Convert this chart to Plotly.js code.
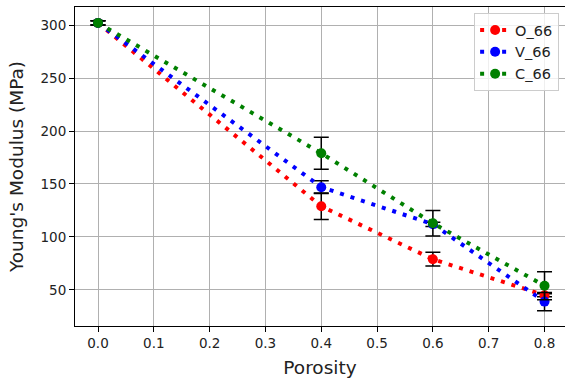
<!DOCTYPE html>
<html>
<head>
<meta charset="utf-8">
<script src="https://cdn.plot.ly/plotly-3.0.1.min.js"></script>
<style>
html,body{margin:0;padding:0;background:#fff;overflow:hidden;}
#chart{width:565px;height:381px;}
</style>
</head>
<body>
<div id="chart"></div>
<script>
const porosity = [0.0, 0.4, 0.6, 0.8];
const seriesNames = ["O_66", "V_66", "C_66"];
const O_66 = [302, 129, 79, 45];
const O_66_err = [2, 12.5, 6.5, 1.5];
const V_66 = [302, 147, 112, 39];
const V_66_err = [2, 6, 2, 8.7];
const C_66 = [302, 179, 113, 54];
const C_66_err = [2, 15, 12, 13.3];
const colors = ["#ff0000", "#0000ff", "#008000"];
const xTicks = [0.0, 0.1, 0.2, 0.3, 0.4, 0.5, 0.6, 0.7, 0.8];
const yTicks = [50, 100, 150, 200, 250, 300];

const ys = [O_66, V_66, C_66];
const errs = [O_66_err, V_66_err, C_66_err];

const traces = ys.map((y, i) => ({
  x: porosity,
  y: y,
  name: seriesNames[i],
  type: "scatter",
  mode: "lines+markers",
  line: {color: colors[i], width: 4, dash: "4px,7px"},
  marker: {color: colors[i], size: 10},
  error_y: {type: "data", array: errs[i], visible: true, color: "#000000", thickness: 1.5, width: 7.5}
}));

const font = "DejaVu Sans, sans-serif";
const layout = {
  width: 565,
  height: 381,
  margin: {l: 75, r: 0, t: 7, b: 55},
  paper_bgcolor: "#ffffff",
  plot_bgcolor: "#ffffff",
  font: {family: font, size: 13.5, color: "#222222"},
  showlegend: true,
  legend: {
    x: 0.988, y: 0.981, xanchor: "right", yanchor: "top",
    bgcolor: "rgba(255,255,255,0.8)", bordercolor: "#cccccc", borderwidth: 1,
    font: {family: font, size: 14.5, color: "#222222"},
    itemwidth: 30, tracegroupgap: 5
  },
  xaxis: {
    range: [-0.0412, 0.8367],
    tickmode: "array", tickvals: xTicks, ticktext: xTicks.map(v => v.toFixed(1)),
    tickfont: {family: font, size: 13.5, color: "#222222"},
    showgrid: true, gridcolor: "#b0b0b0", gridwidth: 1,
    zeroline: false,
    showline: true, linecolor: "#000000", linewidth: 1, mirror: true,
    ticks: "outside", ticklen: 5, tickcolor: "#000000",
    title: {text: "Porosity", font: {family: font, size: 18.5, color: "#222222"}, standoff: 10}
  },
  yaxis: {
    range: [16.0, 317.0],
    tickmode: "array", tickvals: yTicks,
    tickfont: {family: font, size: 13.5, color: "#222222"},
    showgrid: true, gridcolor: "#b0b0b0", gridwidth: 1,
    zeroline: false,
    showline: true, linecolor: "#000000", linewidth: 1, mirror: true,
    ticks: "outside", ticklen: 5, tickcolor: "#000000",
    title: {text: "Young's Modulus (MPa)", font: {family: font, size: 18.5, color: "#222222"}, standoff: 12}
  }
};

Plotly.newPlot("chart", traces, layout, {displayModeBar: false, staticPlot: true});
</script>
</body>
</html>
